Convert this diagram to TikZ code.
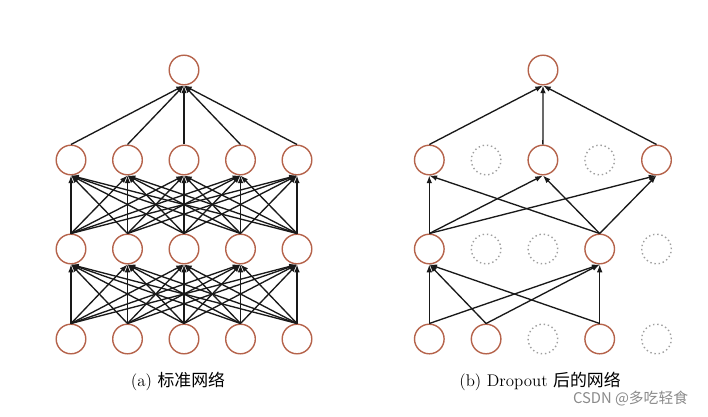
\documentclass[tikz,border=0pt]{standalone}
\usepackage{fontspec}
\usepackage{xcolor}
\usepackage{tikz}
\usetikzlibrary{arrows.meta,positioning}
\newfontfamily\cjk{Noto Sans CJK SC}
\definecolor{NeuronRed}{HTML}{B5634B}
\definecolor{MarkGray}{HTML}{8A8A8A}

\begin{document}
\begin{tikzpicture}[x=0.025cm,y=-0.025cm,
  neuron/.style={circle,draw=NeuronRed,line width=1pt,minimum size=0.74cm,inner sep=0pt},
  dropped/.style={circle,draw=gray!75,dotted,line width=1pt,minimum size=0.74cm,inner sep=0pt},
  conn/.style={-{Latex[length=5.5pt,width=4pt]},line width=0.95pt,black!90},
  caption/.style={font=\large}]
  \useasboundingbox (0,0) rectangle (708,416);
  % (a) full network
  \foreach \i in {1,...,5} {
    \node[neuron] (a0\i) at ({14.5+56.5*\i},339) {};
    \node[neuron] (a1\i) at ({14.5+56.5*\i},249) {};
    \node[neuron] (a2\i) at ({14.5+56.5*\i},160) {};
  }
  \node[neuron] (at) at (184,70) {};
  \foreach \i in {1,...,5} {
    \foreach \j in {1,...,5} {
      \draw[conn] (a0\i.north) -- (a1\j.south);
      \draw[conn] (a1\i.north) -- (a2\j.south);
    }
    \draw[conn] (a2\i.north) -- (at.south);
  }
  \node[caption] (capa) at (178,381) {(a) {\cjk 标准网络}};
  % (b) after dropout
  \foreach \i in {1,2,4} \node[neuron] (b0\i) at ({372.5+56.8*\i},339) {};
  \foreach \i in {3,5} \node[dropped] (b0\i) at ({372.5+56.8*\i},339) {};
  \foreach \i in {1,4} \node[neuron] (b1\i) at ({372.5+56.8*\i},249) {};
  \foreach \i in {2,3,5} \node[dropped] (b1\i) at ({372.5+56.8*\i},249) {};
  \foreach \i in {1,3,5} \node[neuron] (b2\i) at ({372.5+56.8*\i},160) {};
  \foreach \i in {2,4} \node[dropped] (b2\i) at ({372.5+56.8*\i},160) {};
  \node[neuron] (bt) at (543,70) {};
  \foreach \i in {1,2,4} \foreach \j in {1,4} \draw[conn] (b0\i.north) -- (b1\j.south);
  \foreach \i in {1,4} \foreach \j in {1,3,5} \draw[conn] (b1\i.north) -- (b2\j.south);
  \foreach \j in {1,3,5} \draw[conn] (b2\j.north) -- (bt.south);
  \node[caption] (capb) at (540,381) {(b) Dropout {\cjk 后的网络}};
  \node[anchor=east,text=MarkGray,font=\cjk\fontsize{10.5}{12}\selectfont] (mark) at (693,399) {CSDN @多吃轻食};
\end{tikzpicture}
\end{document}
